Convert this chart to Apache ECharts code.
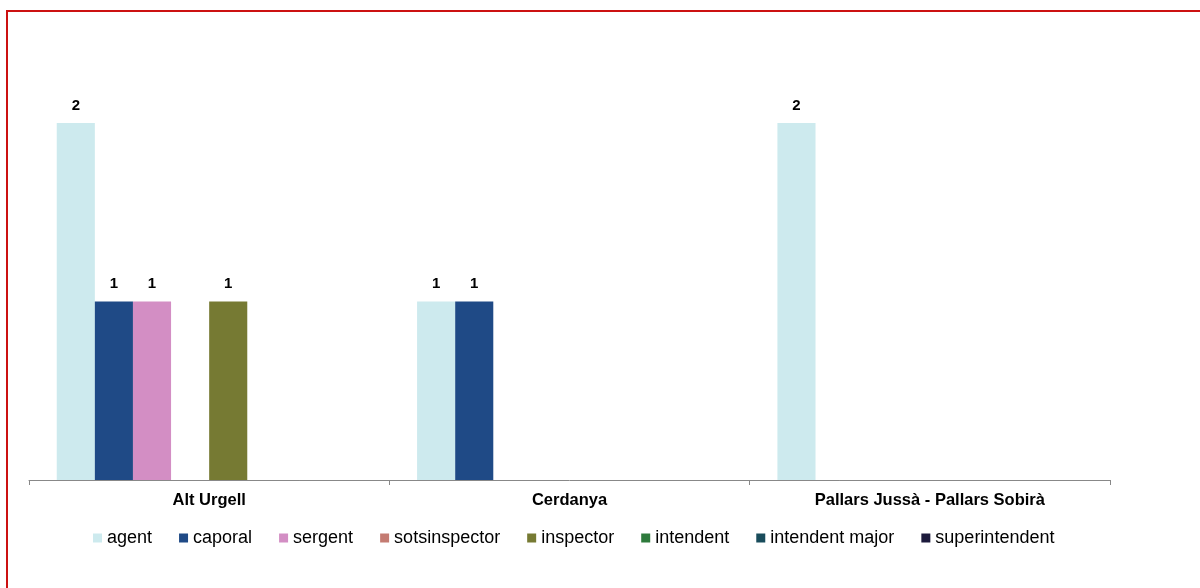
<!DOCTYPE html>
<html>
<head>
<meta charset="utf-8">
<script src="https://cdn.jsdelivr.net/npm/echarts@6/dist/echarts.min.js"></script>
<style>
  html, body { margin: 0; padding: 0; background: #ffffff; }
  #chart { width: 1200px; height: 588px; }
</style>
</head>
<body>
<div id="chart"></div>
<script>
// Regions shown along the category axis
const categories = ['Alt Urgell', 'Cerdanya', 'Pallars Jussà - Pallars Sobirà'];

// Rank names (one bar series each)
const ranks = ['agent', 'caporal', 'sergent', 'sotsinspector', 'inspector', 'intendent', 'intendent major', 'superintendent'];

// Counts per rank, one value per region (null = no people of that rank)
const agent          = [2, 1, 2];
const caporal        = [1, 1, null];
const sergent        = [1, null, null];
const sotsinspector  = [null, null, null];
const inspector      = [1, null, null];
const intendent      = [null, null, null];
const intendentMajor = [null, null, null];
const superintendent = [null, null, null];

const rankValues = [agent, caporal, sergent, sotsinspector, inspector, intendent, intendentMajor, superintendent];
const rankColors = ['#CDEAEE', '#1F4A86', '#D38EC4', '#C47B72', '#767A33', '#2E7A3C', '#194C5B', '#1C1A3C'];

const FONT = 'Liberation Sans, Arial, sans-serif';

const chart = echarts.init(document.getElementById('chart'), null, { renderer: 'canvas' });

const series = ranks.map((name, i) => ({
  name: name,
  type: 'bar',
  data: rankValues[i],
  barGap: '0%',
  barCategoryGap: '15.4%',
  itemStyle: { color: rankColors[i] },
  label: {
    show: true,
    position: 'top',
    distance: 10,
    color: '#000',
    fontFamily: FONT,
    fontWeight: 'bold',
    fontSize: 15
  }
}));

chart.setOption({
  animation: false,
  backgroundColor: '#ffffff',
  graphic: [{
    type: 'rect',
    shape: { x: 7, y: 11, width: 1400, height: 800 },
    style: { fill: 'none', stroke: '#cc1111', lineWidth: 2 },
    silent: true
  }],
  legend: {
    data: ranks,
    left: 93,
    top: 529,
    padding: 0,
    itemWidth: 9,
    itemHeight: 9,
    itemGap: 27,
    icon: 'rect',
    textStyle: {
      fontFamily: FONT,
      fontSize: 18,
      color: '#000'
    }
  },
  grid: { left: 29, right: 90, top: 123, bottom: 108, containLabel: false },
  xAxis: {
    type: 'category',
    data: categories,
    axisLine: { lineStyle: { color: '#888888', width: 1 } },
    axisTick: { show: true, length: 5, lineStyle: { color: '#888888' } },
    axisLabel: {
      margin: 12,
      color: '#000',
      fontFamily: FONT,
      fontWeight: 'bold',
      fontSize: 16.5
    }
  },
  yAxis: {
    type: 'value',
    min: 0,
    max: 2,
    interval: 1,
    show: false,
    splitLine: { show: false }
  },
  series: series
});
</script>
</body>
</html>
